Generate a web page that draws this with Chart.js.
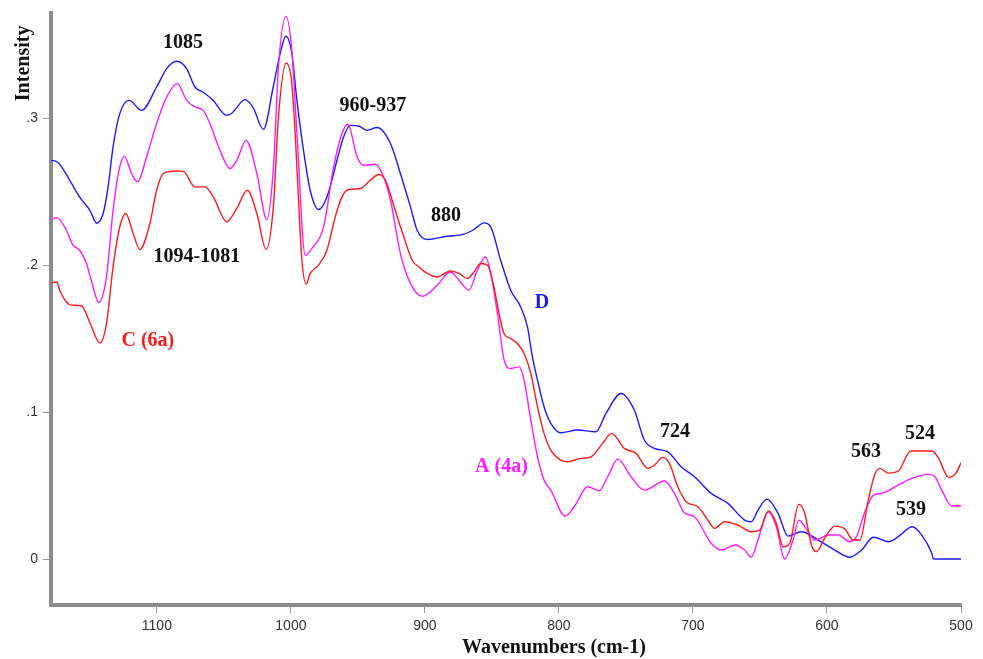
<!DOCTYPE html>
<html>
<head>
<meta charset="utf-8">
<script src="https://cdn.jsdelivr.net/npm/chart.js@4.4.1/dist/chart.umd.min.js"></script>
<style>
  html, body { margin: 0; padding: 0; background: #ffffff; }
  #wrap { width: 983px; height: 659px; }
</style>
</head>
<body>
<div id="wrap"><canvas id="spectra" width="983" height="659"></canvas></div>
<script>
// Wavenumbers (cm-1) and intensities of the three IR spectra
const waveD = [1179, 1174, 1165, 1157.6, 1150, 1144.9, 1140.1, 1136.4, 1132.7, 1127.7, 1120.7, 1111.4, 1100.2, 1092.7, 1085.3, 1077.8, 1071.6, 1065.6, 1058.1, 1047.9, 1044.1, 1034.2, 1028.2, 1020.5, 1013.2, 1008, 1003.7, 999.3, 995.5, 990.6, 985.6, 979.4, 973.1, 965.6, 960.7, 955.6, 949, 943.2, 935.7, 925.7, 918.3, 910.8, 905.8, 898.3, 883.3, 870.9, 863.4, 855.9, 850.9, 843.5, 836, 828.5, 823.5, 819.8, 816, 811.1, 806.1, 798.6, 786.1, 772.4, 764.9, 753.7, 743.8, 736.3, 728.8, 718.8, 708.8, 698.9, 686.4, 673.9, 661.5, 656.5, 651.5, 644.8, 636.5, 629, 619.1, 606.6, 594.2, 583, 574.2, 565.4, 554.2, 546.8, 536.3, 529.3, 521.8, 520.6, 500];
const intensityD = [.2714, .2701, .2578, .2463, .2374, .2286, .2352, .2533, .2805, .3032, .3122, .3054, .3213, .3338, .3388, .3338, .3213, .3179, .3122, .3020, .3034, .3127, .3073, .2925, .3213, .3440, .3558, .3440, .3122, .2782, .2510, .2379, .2465, .2714, .2873, .2952, .2946, .2918, .2937, .2828, .2624, .2397, .2238, .2175, .2197, .2211, .2243, .2288, .2261, .2034, .1830, .1716, .1580, .1376, .1218, .1036, .0923, .0859, .0878, .0866, .0991, .1127, .1014, .0810, .0753, .0730, .0628, .0560, .0447, .0379, .0265, .0254, .0333, .0408, .0311, .0156, .0186, .0129, .0061, .0012, .0061, .0148, .0118, .0152, .0220, .0163, .0039, 0, 0];

const waveA = [1178.8, 1174.6, 1167.5, 1162.6, 1157.6, 1152.6, 1147.6, 1143.4, 1137.6, 1132.7, 1127.7, 1124.2, 1118.9, 1114.4, 1107.7, 1100.2, 1092.7, 1084.8, 1077.8, 1071.6, 1065.4, 1060.4, 1052.9, 1045.4, 1040.4, 1033.4, 1025.4, 1017.9, 1013, 1009.3, 1003.7, 999.3, 995.5, 989.3, 984.3, 975.6, 968.1, 961.9, 957.5, 950.6, 945.7, 937, 931.9, 925.7, 918.3, 910.8, 902, 890.8, 880.9, 874.6, 867.2, 860.9, 854.7, 850.9, 845.9, 840.9, 835.9, 829.8, 826, 821, 816, 811.1, 806.1, 795.4, 788.6, 778.6, 770, 763.6, 756.1, 746.2, 736.3, 721.3, 713.8, 706.4, 698.9, 686.4, 678.9, 668.9, 661.5, 656.5, 651.5, 643.7, 637.8, 631.6, 625.3, 621.1, 614.1, 609.1, 599.1, 591.6, 583.2, 578, 571.7, 565.2, 559.3, 546.8, 536.8, 524.1, 519.4, 514.4, 506.9, 500];
const intensityA = [.2313, .2324, .2238, .2136, .2102, .2014, .1852, .1746, .1920, .2374, .2669, .2741, .2624, .2567, .2737, .2964, .3145, .3236, .3122, .3077, .3054, .2964, .2782, .2658, .2714, .2850, .2624, .2311, .2669, .3349, .3694, .3463, .2896, .2068, .2114, .2261, .2669, .2896, .2959, .2737, .2680, .2687, .2624, .2442, .2080, .1876, .1789, .1864, .1954, .1898, .1830, .1966, .2056, .1944, .1671, .1354, .1297, .1308, .1218, .0946, .0696, .0537, .0469, .0293, .0356, .0492, .0465, .0560, .0680, .0560, .0469, .0531, .0447, .0315, .0288, .0107, .0061, .0095, .0061, .0012, .0129, .0322, .0220, .0000, .0129, .0265, .0186, .0129, .0163, .0163, .0118, .0152, .0322, .0435, .0447, .0503, .0549, .0576, .0560, .0469, .0361, .0363];

const waveC = [1178.8, 1174.8, 1172.5, 1167.5, 1163.8, 1156.3, 1150.1, 1142.6, 1137.6, 1132.7, 1127.7, 1123.2, 1117.7, 1112.7, 1105.2, 1100.2, 1095.3, 1085.3, 1080.3, 1071.6, 1064.1, 1057.9, 1047.9, 1040.4, 1032.5, 1025.4, 1018.5, 1013, 1009.3, 1003.5, 999.3, 996.8, 994.3, 991.8, 988.6, 985.6, 979.4, 973.1, 966.9, 961.9, 956.9, 948.2, 940.7, 934.5, 929.5, 923.3, 915.8, 909.5, 904.6, 898.3, 890.8, 880.9, 874.6, 868.4, 863.4, 858.4, 853.4, 848.5, 844.7, 841, 836, 831, 826, 821, 816, 811.1, 806.1, 798.6, 793.6, 783.6, 776.1, 767.4, 760.7, 751.2, 742.5, 733.7, 728.8, 722.5, 717.6, 711.3, 705.1, 696.3, 688.9, 683.9, 676.4, 666.4, 656.5, 650.3, 643.7, 637.8, 632.8, 627.8, 621.1, 616.6, 611.6, 607.9, 601.6, 594.2, 586.7, 580.4, 575.5, 569.2, 564.2, 560.5, 554.2, 546.8, 537.5, 521.8, 516.8, 509.3, 503.9, 500];
const intensityC = [.1881, .1886, .1830, .1750, .1728, .1724, .1612, .1471, .1603, .1988, .2261, .2352, .2216, .2107, .2284, .2510, .2624, .2641, .2639, .2533, .2533, .2465, .2295, .2386, .2510, .2352, .2107, .2408, .3009, .3376, .3236, .2896, .2442, .2034, .1871, .1944, .2000, .2102, .2329, .2465, .2515, .2522, .2578, .2617, .2578, .2408, .2193, .2034, .1988, .1944, .1920, .1961, .1944, .1910, .1954, .2012, .2000, .1852, .1671, .1535, .1501, .1467, .1399, .1263, .1036, .0855, .0741, .0673, .0662, .0685, .0696, .0787, .0855, .0753, .0719, .0617, .0639, .0692, .0651, .0492, .0390, .0356, .0265, .0209, .0254, .0231, .0186, .0197, .0327, .0243, .0084, .0107, .0372, .0311, .0095, .0050, .0143, .0224, .0204, .0129, .0129, .0401, .0578, .0617, .0585, .0599, .0735, .0735, .0687, .0556, .0583, .0655];

// Band labels and sample labels, anchored at (wavenumber, intensity)
const bandLabels = [
  { text: '1085',      wn: 1080.6, v: 0.3517, color: '#111111' },
  { text: '960-937',   wn: 938.8,  v: 0.3082, color: '#111111' },
  { text: '880',       wn: 884.3,  v: 0.2333, color: '#111111' },
  { text: '1094-1081', wn: 1070.1, v: 0.2054, color: '#111111' },
  { text: '724',       wn: 713.4,  v: 0.0864, color: '#111111' },
  { text: '563',       wn: 570.9,  v: 0.0728, color: '#111111' },
  { text: '524',       wn: 530.6,  v: 0.0850, color: '#111111' },
  { text: '539',       wn: 537.3,  v: 0.0333, color: '#111111' },
  { text: 'D',         wn: 812.7,  v: 0.1741, color: '#1a1aff' },
  { text: 'C (6a)',    wn: 1106.7, v: 0.1483, color: '#ff1a1a' },
  { text: 'A (4a)',    wn: 842.9,  v: 0.0626, color: '#ff1aff' }
];

const toPoints = (xs, ys) => xs.map((x, i) => ({ x: x, y: ys[i] }));

const AXIS_COLOR = '#8c8c8c';
const TICK_FONT = { family: '"Liberation Sans", Arial, sans-serif', size: 14 };
const SERIF_BOLD = 'bold 20px "Liberation Serif", "Times New Roman", serif';

const textPlugin = {
  id: 'spectrumText',
  afterDatasetsDraw(chart) {
    const { ctx, chartArea, scales } = chart;
    ctx.save();
    ctx.font = SERIF_BOLD;
    ctx.textAlign = 'center';
    ctx.textBaseline = 'middle';
    bandLabels.forEach(l => {
      ctx.fillStyle = l.color;
      ctx.fillText(l.text, scales.x.getPixelForValue(l.wn), scales.y.getPixelForValue(l.v));
    });
    // axis titles
    ctx.fillStyle = '#111111';
    ctx.fillText('Wavenumbers (cm-1)', chartArea.left + 503, chartArea.bottom + 43);
    ctx.translate(chartArea.left - 27.5, chartArea.top + 50);
    ctx.rotate(-Math.PI / 2);
    ctx.fillText('Intensity', 0, 0);
    ctx.restore();
  }
};

const series = (label, xs, ys, color) => ({
  label: label,
  data: toPoints(xs, ys),
  borderColor: color,
  borderWidth: 1.4,
  pointRadius: 0,
  fill: false,
  tension: 0.4,
  cubicInterpolationMode: 'monotone'
});

new Chart(document.getElementById('spectra'), {
  type: 'line',
  data: {
    datasets: [
      series('C (6a)', waveC, intensityC, '#ff1a1a'),
      series('A (4a)', waveA, intensityA, '#ff1aff'),
      series('D', waveD, intensityD, '#1a1aff')
    ]
  },
  options: {
    responsive: false,
    animation: false,
    layout: { padding: { left: 0, right: 22, top: 13, bottom: 0 } },
    plugins: { legend: { display: false }, tooltip: { enabled: false } },
    scales: {
      x: {
        type: 'linear',
        reverse: true,
        min: 500,
        max: 1179,
        afterFit: s => { s.height = 54; },
        border: { display: true, color: AXIS_COLOR, width: 4 },
        grid: { drawOnChartArea: false, drawTicks: true, tickLength: 8, color: '#999999', lineWidth: 1 },
        ticks: {
          stepSize: 100, includeBounds: false, autoSkip: false, maxRotation: 0,
          padding: 5, color: '#333333', font: TICK_FONT,
          callback: v => String(v)
        }
      },
      y: {
        type: 'linear',
        min: -0.0313,
        max: 0.3714,
        afterFit: s => { s.width = 51; },
        border: { display: true, color: AXIS_COLOR, width: 4 },
        grid: { drawOnChartArea: false, drawTicks: true, tickLength: 8, color: '#999999', lineWidth: 1 },
        ticks: {
          stepSize: 0.1, includeBounds: false, padding: 5, color: '#333333', font: TICK_FONT,
          callback: v => { const r = Math.round(v * 10); return r === 0 ? '0' : '.' + r; }
        }
      }
    }
  },
  plugins: [textPlugin]
});
</script>
</body>
</html>
